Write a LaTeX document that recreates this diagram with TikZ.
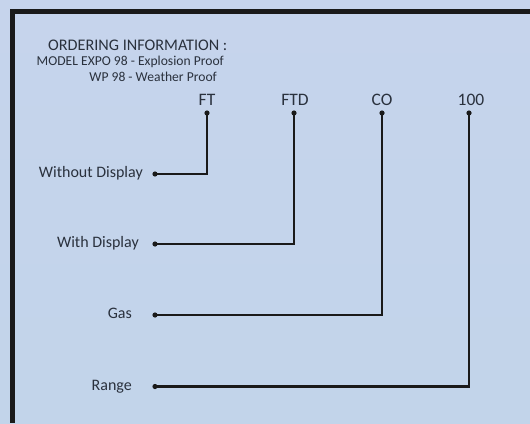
\documentclass[tikz,border=0pt]{standalone}
\usepackage{fontspec}
\setmainfont{Carlito}
\usepackage{tikz}

\definecolor{panel}{HTML}{C6D4EC}
\definecolor{panelbot}{HTML}{C2D4EA}
\definecolor{ink}{HTML}{2A313D}
\definecolor{wire}{HTML}{1A1A1A}

\tikzset{
	head/.style={text=ink,inner sep=0pt,font=\fontsize{16.2}{19}\selectfont},
	model/.style={text=ink,inner sep=0pt,font=\fontsize{13.6}{16}\selectfont},
	code/.style={text=ink,inner sep=0pt,anchor=base,font=\fontsize{17.5}{20}\selectfont},
	choice/.style={text=ink,inner sep=0pt,anchor=base east,font=\fontsize{16}{19}\selectfont},
	lead/.style={draw=wire,line width=2.4pt},
	pin/.style={fill=wire,draw=none}
}

\begin{document}
\begin{tikzpicture}[x=1pt,y=-1pt]
		\shade[top color=panel,bottom color=panelbot] (0,0) rectangle (530,423);
		\useasboundingbox (0,0) rectangle (530,423);
		\draw[wire,line width=5pt] (530,11.5) -| (12.5,423);
		% heading
		\node[head, anchor=base west, at={(48,50)}] (title) {ORDERING INFORMATION :};
		\node[model, anchor=base west, at={(36.5,65)}] (expo) {MODEL EXPO 98 - Explosion Proof};
		\node[model, anchor=base east, at={(217,81)}] (wp) {WP 98 - Weather Proof};
		% code letters
		\node[code, at={(207,105)}] (ft) {FT};
		\node[code, at={(295,105)}] (ftd) {FTD};
		\node[code, at={(382,105)}] (co) {CO};
		\node[code, at={(471,105)}] (rng) {100};
		\coordinate (ft-pin) at (207,113);
		\coordinate (ftd-pin) at (294,113);
		\coordinate (co-pin) at (382,113);
		\coordinate (rng-pin) at (469,113);
		% choices
		\node[choice, at={(143,177.5)}] (nodisp) {Without Display};
		\node[choice, at={(139,247.5)}] (disp) {With Display};
		\node[choice, at={(132,318.5)}] (gas) {Gas};
		\node[choice, at={(132,390)}] (range) {Range};
		\coordinate (nodisp-pin) at (155,174);
		\coordinate (disp-pin) at (155,244);
		\coordinate (gas-pin) at (155,315);
		\coordinate (range-pin) at (155,386.5);
		% leads
		\draw[lead] (nodisp-pin) -| (ft-pin);
		\draw[lead] (disp-pin) -| (ftd-pin);
		\draw[lead] (gas-pin) -| (co-pin);
		\draw[lead] (range-pin) -| (rng-pin);
		\foreach \p in {ft,ftd,co,rng,nodisp,disp,gas,range}
			\fill[pin] (\p-pin) circle (2.6);
		\end{tikzpicture}
\end{document}
